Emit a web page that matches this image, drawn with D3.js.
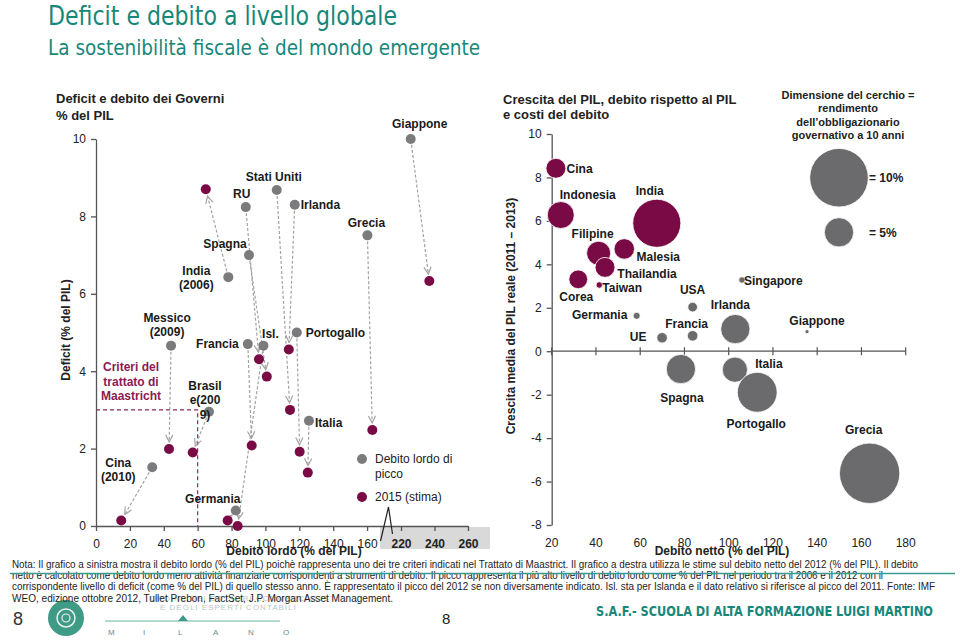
<!DOCTYPE html>
<html><head><meta charset="utf-8">
<script src="https://cdn.jsdelivr.net/npm/d3@7"></script>
<style>
body{margin:0;background:#fff;}
svg{display:block;font-family:"Liberation Sans",Arial,sans-serif;}
</style></head><body>
<svg id="c" width="960" height="642"></svg>
<script>
// ---------- LEFT CHART DATA ----------
const leftCountries = ["Cina","Messico","Brasile","India","Germania","Isl.","Francia","RU","Spagna","Stati Uniti","Irlanda","Portogallo","Italia","Grecia","Giappone"];
const peakDebt    = [33.2,44.3,66.7,78.1,82.5,98.8,89.6,88.4,90.3,106.7,117.3,118.5,125.7,160.2,225.8];
const peakDeficit = [1.52,4.66,2.95,6.43,0.40,4.66,4.70,8.24,7.00,8.68,8.30,5.00,2.72,7.51,10.0];
const estDebt     = [14.9,43.1,57.1,64.8,77.7,83.6,91.9,96.2,100.8,114.5,113.8,120.2,125.0,163.1,236.9];
const estDeficit  = [0.14,1.99,1.90,8.70,0.14,0.00,2.08,4.31,3.86,3.00,4.56,1.92,1.38,2.48,6.33];
const leftLabelLines = [["Cina","(2010)"],["Messico","(2009)"],["Brasil","e(200","9)"],["India","(2006)"],["Germania"],["Isl."],["Francia"],["RU"],["Spagna"],["Stati Uniti"],["Irlanda"],["Portogallo"],["Italia"],["Grecia"],["Giappone"]];
const leftXTicks = [0,20,40,60,80,100,120,140,160];
const leftXTicksBroken = [220,240,260];
const leftYTicks = [0,2,4,6,8,10];
const maastrichtDebt = 60, maastrichtDeficit = 3;

// ---------- RIGHT CHART DATA ----------
const rightCountries = ["Cina","Indonesia","India","Filipine","Malesia","Thailandia","Corea","Taiwan","Germania","USA","Francia","UE","Irlanda","Singapore","Giappone","Spagna","Italia","Portogallo","Grecia"];
const netDebt   = [21.9,24.1,67.5,41.2,52.8,44.1,32.0,41.5,58.4,83.7,83.7,69.9,103.0,106.0,135.4,78.4,102.8,112.9,163.7];
const gdpGrowth = [8.42,6.27,5.89,4.51,4.71,3.86,3.31,3.05,1.63,2.03,0.71,0.62,1.02,3.28,0.90,-0.82,-0.85,-1.89,-5.62];
const bondYield = [3.4,4.6,8.2,4.1,3.5,3.4,3.2,1.1,1.2,1.65,1.8,1.8,5.0,1.1,0.7,5.0,4.3,6.8,10.3];
const emergingAsia = [1,1,1,1,1,1,1,1,0,0,0,0,0,0,0,0,0,0,0];
const rightXTicks = [20,40,60,80,100,120,140,160,180];
const rightYTicks = [-8,-6,-4,-2,0,2,4,6,8,10];
const legendYields = [10,5];

// ---------- label placement (pixel offsets from the mark) ----------
const leftLabelOffset = {
 "Cina":[-34,-4.3,"middle"],"Messico":[-4,-28,"middle"],"Brasile":[-4,-26,"middle"],"India":[-32,-6.6,"middle"],
 "Germania":[-23,-12,"middle"],"Isl.":[7,-12,"middle"],"Francia":[-9,0,"end"],"RU":[-4,-13,"middle"],
 "Spagna":[-24,-11,"middle"],"Stati Uniti":[-3,-13,"middle"],"Irlanda":[6,0,"start"],"Portogallo":[9,0,"start"],
 "Italia":[6,2,"start"],"Grecia":[-1,-13,"middle"],"Giappone":[9,-15,"middle"]};
const rightLabelOffset = {
 "Cina":[10.7,0,"start"],"Indonesia":[27,-20,"middle"],"India":[-7,-32,"middle"],"Filipine":[-6,-19,"middle"],
 "Malesia":[34,8,"middle"],"Thailandia":[42,6,"middle"],"Corea":[-2,17,"middle"],"Taiwan":[3,3,"start"],
 "Germania":[-37,-1,"middle"],"USA":[0,-17,"middle"],"Francia":[-6,-12,"middle"],"UE":[-24,-1,"middle"],
 "Irlanda":[-5,-24,"middle"],"Singapore":[2,1,"start"],"Giappone":[10,-11,"middle"],"Spagna":[1,29,"middle"],
 "Italia":[34,-6,"middle"],"Portogallo":[-1,32,"middle"],"Grecia":[-6,-44,"middle"]};

const TEAL = "#17877a", MAROON = "#7a0a46", GREY = "#7b7b7d", BGREY = "#6b6b6e", AXIS = "#555";
const svg = d3.select("#c");
const defs = svg.append("defs");
defs.append("marker").attr("id","ah").attr("viewBox","0 0 10 10").attr("refX",9).attr("refY",5)
  .attr("markerWidth",9).attr("markerHeight",9).attr("markerUnits","userSpaceOnUse").attr("orient","auto")
  .append("path").attr("d","M1,1 L9,5 L1,9").attr("fill","none").attr("stroke","#a3a3a3").attr("stroke-width",1.3);

// ---------- TITLES ----------
const condensed = '"DejaVu Sans Condensed","DejaVu Sans",Tahoma,sans-serif';
svg.append("text").attr("x",48).attr("y",25).attr("fill",TEAL).style("font-family",condensed)
  .style("font-size","26px").attr("textLength",349).attr("lengthAdjust","spacingAndGlyphs").text("Deficit e debito a livello globale");
svg.append("text").attr("x",48).attr("y",55).attr("fill",TEAL).style("font-family",condensed)
  .style("font-size","22px").attr("textLength",432).attr("lengthAdjust","spacingAndGlyphs").text("La sostenibilità fiscale è del mondo emergente");

// ---------- LEFT CHART ----------
const xL = d3.scaleLinear().domain([0,175,220,260]).range([96,392.5,401,468]);
const yL = d3.scaleLinear().domain([0,10]).range([526,139]);
const gL = svg.append("g");

gL.append("text").attr("x",56).attr("y",103).style("font-size","13px").style("font-weight","bold").attr("fill","#222").text("Deficit e debito dei Governi");
gL.append("text").attr("x",56).attr("y",120).style("font-size","13px").style("font-weight","bold").attr("fill","#222").text("% del PIL");

// grey box behind broken ticks
gL.append("rect").attr("x",xL(220)-21).attr("y",527).attr("width",110).attr("height",22).attr("fill","#d9d9d9");

const yAxL = gL.append("g").attr("transform",`translate(${xL(0)},0)`)
  .call(d3.axisLeft(yL).tickValues(leftYTicks).tickSize(5).tickSizeOuter(0).tickFormat(d=>String(d)));
const xAxL = gL.append("g").attr("transform",`translate(0,${yL(0)})`)
  .call(d3.axisBottom(xL).tickValues(leftXTicks.concat(leftXTicksBroken)).tickSize(5).tickSizeOuter(0).tickFormat(d=>String(d)));
[yAxL,xAxL].forEach(a=>{a.selectAll("path,line").attr("stroke",AXIS).attr("stroke-width",1.3);
  a.selectAll("text").style("font-size","12px").attr("fill","#222").style("font-family",'"Liberation Sans",Arial,sans-serif');});
yAxL.selectAll("text").attr("x",-10);
xAxL.selectAll("text").attr("y",13);
xAxL.selectAll(".tick").filter(d=>leftXTicksBroken.includes(d)).select("text").style("font-weight","bold");
// axis break zigzag
const bx = xL(175);
gL.append("path").attr("d",`M${bx-12},${yL(0)+15} L${bx-4},${yL(0)-19} L${bx},${yL(0)+8}`).attr("fill","none").attr("stroke","#222").attr("stroke-width",1.2);

gL.append("text").attr("transform","translate(70,330) rotate(-90)").attr("text-anchor","middle")
  .style("font-size","12px").style("font-weight","bold").attr("fill","#222").text("Deficit (% del PIL)");
gL.append("text").attr("x",294).attr("y",555).attr("text-anchor","middle")
  .style("font-size","12px").style("font-weight","bold").attr("fill","#222").text("Debito lordo (% del PIL)");

// Maastricht criteria
gL.append("path").attr("d",`M${xL(0)},${yL(maastrichtDeficit)} H${xL(maastrichtDebt)} V${yL(0)}`)
  .attr("fill","none").attr("stroke","#8b2a5c").attr("stroke-width",1.2).attr("stroke-dasharray","4,3");
["Criteri del","trattato di","Maastricht"].forEach((t,i)=>gL.append("text").attr("x",131).attr("y",371+i*14.5)
  .attr("text-anchor","middle").style("font-size","12px").style("font-weight","bold").attr("fill","#8b1a55").text(t));

// arrows
const R = 5;
leftCountries.forEach((c,i)=>{
  const x1=xL(peakDebt[i]), y1=yL(peakDeficit[i]), x2=xL(estDebt[i]), y2=yL(estDeficit[i]);
  const L=Math.hypot(x2-x1,y2-y1), k=(L-R-2)/L, s=(R+1)/L;
  gL.append("line").attr("x1",x1+(x2-x1)*s).attr("y1",y1+(y2-y1)*s).attr("x2",x1+(x2-x1)*k).attr("y2",y1+(y2-y1)*k)
    .attr("stroke","#a3a3a3").attr("stroke-width",1.2).attr("stroke-dasharray","3,2").attr("marker-end","url(#ah)");
});
gL.selectAll("circle.peak").data(leftCountries).enter().append("circle").attr("class","peak")
  .attr("cx",(d,i)=>xL(peakDebt[i])).attr("cy",(d,i)=>yL(peakDeficit[i])).attr("r",R).attr("fill",GREY);
gL.selectAll("circle.est").data(leftCountries).enter().append("circle").attr("class","est")
  .attr("cx",(d,i)=>xL(estDebt[i])).attr("cy",(d,i)=>yL(estDeficit[i])).attr("r",R).attr("fill",MAROON);
leftCountries.forEach((c,i)=>{
  const o=leftLabelOffset[c];
  leftLabelLines[i].forEach((t,j)=>gL.append("text").attr("x",xL(peakDebt[i])+o[0]).attr("y",yL(peakDeficit[i])+o[1]+j*14.3)
    .attr("dy","0.35em").attr("text-anchor",o[2]).style("font-size","12px").style("font-weight","bold").attr("fill","#1a1a1a").text(t));
});
// legend
gL.append("circle").attr("cx",362).attr("cy",459).attr("r",R).attr("fill",GREY);
gL.append("circle").attr("cx",362).attr("cy",497).attr("r",R).attr("fill",MAROON);
[["Debito lordo di",459],["picco",474],["2015 (stima)",497]].forEach(d=>gL.append("text").attr("x",375).attr("y",d[1]).attr("dy","0.35em")
  .style("font-size","12px").attr("fill","#222").text(d[0]));

// ---------- RIGHT CHART ----------
const xR = d3.scaleLinear().domain([20,180]).range([551.7,905.7]);
const yR = d3.scaleLinear().domain([-8,10]).range([525,134]);
const rR = d3.scaleLinear().domain([0,10]).range([0,29.3]);
const gR = svg.append("g");
gR.append("text").attr("x",503).attr("y",104).style("font-size","13px").style("font-weight","bold").attr("fill","#222").text("Crescita del PIL, debito rispetto al PIL");
gR.append("text").attr("x",503).attr("y",119).style("font-size","13px").style("font-weight","bold").attr("fill","#222").text("e costi del debito");

const yAxR = gR.append("g").attr("transform",`translate(${xR(20)},0)`)
  .call(d3.axisLeft(yR).tickValues(rightYTicks).tickSize(5).tickSizeOuter(0).tickFormat(d=>String(d)));
yAxR.selectAll("path,line").attr("stroke",AXIS).attr("stroke-width",1.3);
yAxR.selectAll("text").style("font-size","12px").attr("fill","#222").attr("x",-10);
// x axis at zero
gR.append("line").attr("x1",xR(20)).attr("x2",xR(180)).attr("y1",yR(0)).attr("y2",yR(0)).attr("stroke",AXIS).attr("stroke-width",1.3);
rightXTicks.forEach(t=>{
  gR.append("line").attr("x1",xR(t)).attr("x2",xR(t)).attr("y1",yR(0)-4).attr("y2",yR(0)+4).attr("stroke",AXIS).attr("stroke-width",1.2);
  gR.append("text").attr("x",xR(t)).attr("y",547).attr("text-anchor","middle").style("font-size","12px").attr("fill","#222").text(t);
});
gR.append("text").attr("transform","translate(515,316) rotate(-90)").attr("text-anchor","middle")
  .style("font-size","12px").style("font-weight","bold").attr("fill","#222").text("Crescita media del PIL reale (2011 – 2013)");
gR.append("text").attr("x",722).attr("y",555).attr("text-anchor","middle")
  .style("font-size","12px").style("font-weight","bold").attr("fill","#222").text("Debito netto (% del PIL)");

gR.selectAll("circle.b").data(rightCountries).enter().append("circle").attr("class","b")
  .attr("cx",(d,i)=>xR(netDebt[i])).attr("cy",(d,i)=>yR(gdpGrowth[i])).attr("r",(d,i)=>rR(bondYield[i]))
  .attr("fill",(d,i)=>emergingAsia[i]?MAROON:BGREY).attr("stroke","#fff").attr("stroke-width",0.8);
rightCountries.forEach((c,i)=>{
  const o=rightLabelOffset[c];
  gR.append("text").attr("x",xR(netDebt[i])+o[0]).attr("y",yR(gdpGrowth[i])+o[1]).attr("dy","0.35em").attr("text-anchor",o[2])
    .style("font-size","12px").style("font-weight","bold").attr("fill","#1a1a1a").text(c);
});
// size legend
["Dimensione del cerchio =","rendimento","dell’obbligazionario","governativo a 10 anni"].forEach((t,i)=>
  gR.append("text").attr("x",848).attr("y",99+i*13.4).attr("text-anchor","middle").style("font-size","11px").style("font-weight","bold").attr("fill","#222").text(t));
const legY = [177.7,232.3];
legendYields.forEach((v,i)=>{
  gR.append("circle").attr("cx",839).attr("cy",legY[i]).attr("r",rR(v)).attr("fill",BGREY).attr("stroke","#fff").attr("stroke-width",0.8);
  gR.append("text").attr("x",869).attr("y",legY[i]).attr("dy","0.35em").style("font-size","12px").style("font-weight","bold").attr("fill","#222").text("= "+v+"%");
});

// ---------- FOOTER ----------
const note = [
 ["Nota: Il grafico a sinistra mostra il debito lordo (% del PIL)  poichè rappresenta uno dei tre criteri indicati nel Trattato di  Maastrict. Il grafico a destra utilizza le stime sul debito netto del 2012 (% del PIL). Il debito",906],
 ["netto è calcolato come debito lordo meno attività finanziarie corrispondenti a strumenti di debito. Il picco rappresenta il più alto livello di debito lordo come % del PIL nel periodo tra il 2006 e il 2012 con il",871],
 ["corrispondente livello di deficit (come % del PIL) di quello stesso anno. È rappresentato il picco del  2012 se non diversamente indicato. Isl. sta per  Islanda e il dato relativo si riferisce al picco del  2011. Fonte: IMF",923],
 ["WEO, edizione  ottobre 2012, Tullet Prebon, FactSet, J.P. Morgan Asset Management.",381]];
// logo faint text (behind)
svg.append("text").attr("x",150).attr("y",601).style("font-size","8px").attr("fill","#b9c9c4").attr("letter-spacing","1").text("ORDINE DEI DOTTORI COMMERCIALISTI");
svg.append("text").attr("x",160).attr("y",610).style("font-size","8px").attr("fill","#b9c9c4").attr("letter-spacing","1").text("E DEGLI ESPERTI CONTABILI");
svg.append("circle").attr("cx",66).attr("cy",618).attr("r",18).attr("fill","#3f9a86");
svg.append("circle").attr("cx",66).attr("cy",618).attr("r",9).attr("fill","none").attr("stroke","#e8f3ef").attr("stroke-width",1.5);
svg.append("circle").attr("cx",66).attr("cy",618).attr("r",4).attr("fill","none").attr("stroke","#e8f3ef").attr("stroke-width",1.2);
svg.append("line").attr("x1",105).attr("x2",280).attr("y1",621).attr("y2",621).attr("stroke","#6fb3a1").attr("stroke-width",1);
svg.append("path").attr("d","M178,621 L183,615 L188,621 Z").attr("fill","#3f9a86");
"MILANO".split("").forEach((ch,i)=>svg.append("text").attr("x",108+i*35).attr("y",635).style("font-size","8px").attr("fill","#6a8f86").text(ch));

note.forEach((d,i)=>svg.append("text").attr("x",12).attr("y",568+i*11.2).style("font-size","10px").attr("fill","#222")
  .attr("textLength",d[1]).attr("lengthAdjust","spacingAndGlyphs").text(d[0]));
svg.append("line").attr("x1",10).attr("x2",955).attr("y1",573.5).attr("y2",573.5).attr("stroke","#3a9c8f").attr("stroke-width",1.5);

svg.append("text").attr("x",13).attr("y",625).style("font-size","18px").attr("fill","#333").text("8");
svg.append("text").attr("x",442).attr("y",624).style("font-size","15px").attr("fill","#222").text("8");
svg.append("text").attr("x",596).attr("y",616).attr("fill",TEAL).style("font-family",condensed).style("font-weight","bold")
  .style("font-size","14px").attr("textLength",337).attr("lengthAdjust","spacingAndGlyphs").text("S.A.F.- SCUOLA DI ALTA FORMAZIONE LUIGI MARTINO");
</script>
</body></html>
